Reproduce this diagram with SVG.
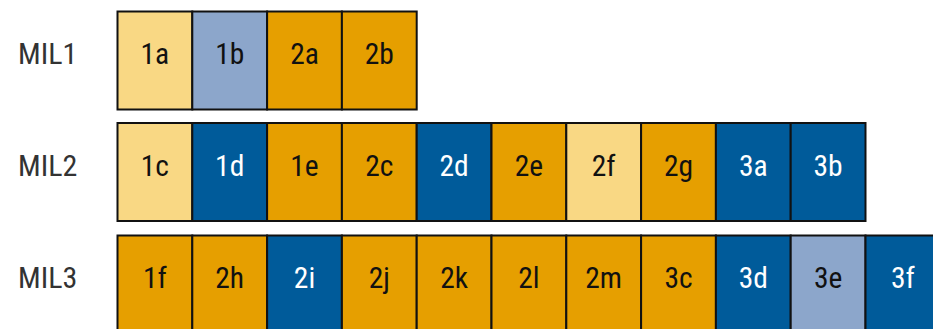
<svg xmlns="http://www.w3.org/2000/svg" width="933" height="329" viewBox="0 0 933 329">
<style>
.c{stroke:#111;stroke-width:2}
.ly{fill:#F9D884}.lb{fill:#8CA6CB}.o{fill:#E69F00}.b{fill:#005B9A}
text{font-family:"Roboto Condensed",Roboto,"Liberation Sans",sans-serif;font-stretch:condensed;font-size:29.5px;text-anchor:middle}
.t{fill:#111}.w{fill:#fff}
.lab{fill:#333;text-anchor:start;font-size:30px}
</style>
<rect width="933" height="329" fill="#fff"/>
<g id="row1">
<text class="lab" x="18" y="63.5">MIL1</text>
<g id="n1a"><rect class="c ly" x="117.5" y="11.5" width="74.8" height="98"/><text class="t" x="154.9" y="63.5">1a</text></g>
<g id="n1b"><rect class="c lb" x="192.3" y="11.5" width="74.8" height="98"/><text class="t" x="229.7" y="63.5">1b</text></g>
<g id="n2a"><rect class="c o" x="267.1" y="11.5" width="74.8" height="98"/><text class="t" x="304.5" y="63.5">2a</text></g>
<g id="n2b"><rect class="c o" x="341.9" y="11.5" width="74.8" height="98"/><text class="t" x="379.3" y="63.5">2b</text></g>
</g>
<g id="row2">
<text class="lab" x="18" y="175.5">MIL2</text>
<g id="n1c"><rect class="c ly" x="117.5" y="123" width="74.8" height="98"/><text class="t" x="154.9" y="175.5">1c</text></g>
<g id="n1d"><rect class="c b" x="192.3" y="123" width="74.8" height="98"/><text class="w" x="229.7" y="175.5">1d</text></g>
<g id="n1e"><rect class="c o" x="267.1" y="123" width="74.8" height="98"/><text class="t" x="304.5" y="175.5">1e</text></g>
<g id="n2c"><rect class="c o" x="341.9" y="123" width="74.8" height="98"/><text class="t" x="379.3" y="175.5">2c</text></g>
<g id="n2d"><rect class="c b" x="416.7" y="123" width="74.8" height="98"/><text class="w" x="454.1" y="175.5">2d</text></g>
<g id="n2e"><rect class="c o" x="491.5" y="123" width="74.8" height="98"/><text class="t" x="528.9" y="175.5">2e</text></g>
<g id="n2f"><rect class="c ly" x="566.3" y="123" width="74.8" height="98"/><text class="t" x="603.7" y="175.5">2f</text></g>
<g id="n2g"><rect class="c o" x="641.1" y="123" width="74.8" height="98"/><text class="t" x="678.5" y="175.5">2g</text></g>
<g id="n3a"><rect class="c b" x="715.9" y="123" width="74.8" height="98"/><text class="w" x="753.3" y="175.5">3a</text></g>
<g id="n3b"><rect class="c b" x="790.7" y="123" width="74.8" height="98"/><text class="w" x="828.1" y="175.5">3b</text></g>
</g>
<g id="row3">
<text class="lab" x="18" y="287.5">MIL3</text>
<g id="n1f"><rect class="c o" x="117.5" y="235.5" width="74.8" height="98"/><text class="t" x="154.9" y="287.5">1f</text></g>
<g id="n2h"><rect class="c o" x="192.3" y="235.5" width="74.8" height="98"/><text class="t" x="229.7" y="287.5">2h</text></g>
<g id="n2i"><rect class="c b" x="267.1" y="235.5" width="74.8" height="98"/><text class="w" x="304.5" y="287.5">2i</text></g>
<g id="n2j"><rect class="c o" x="341.9" y="235.5" width="74.8" height="98"/><text class="t" x="379.3" y="287.5">2j</text></g>
<g id="n2k"><rect class="c o" x="416.7" y="235.5" width="74.8" height="98"/><text class="t" x="454.1" y="287.5">2k</text></g>
<g id="n2l"><rect class="c o" x="491.5" y="235.5" width="74.8" height="98"/><text class="t" x="528.9" y="287.5">2l</text></g>
<g id="n2m"><rect class="c o" x="566.3" y="235.5" width="74.8" height="98"/><text class="t" x="603.7" y="287.5">2m</text></g>
<g id="n3c"><rect class="c o" x="641.1" y="235.5" width="74.8" height="98"/><text class="t" x="678.5" y="287.5">3c</text></g>
<g id="n3d"><rect class="c b" x="715.9" y="235.5" width="74.8" height="98"/><text class="w" x="753.3" y="287.5">3d</text></g>
<g id="n3e"><rect class="c lb" x="790.7" y="235.5" width="74.8" height="98"/><text class="t" x="828.1" y="287.5">3e</text></g>
<g id="n3f"><rect class="c b" x="865.5" y="235.5" width="74.8" height="98"/><text class="w" x="902.9" y="287.5">3f</text></g>
</g>
<g id="connectors"/>
</svg>
